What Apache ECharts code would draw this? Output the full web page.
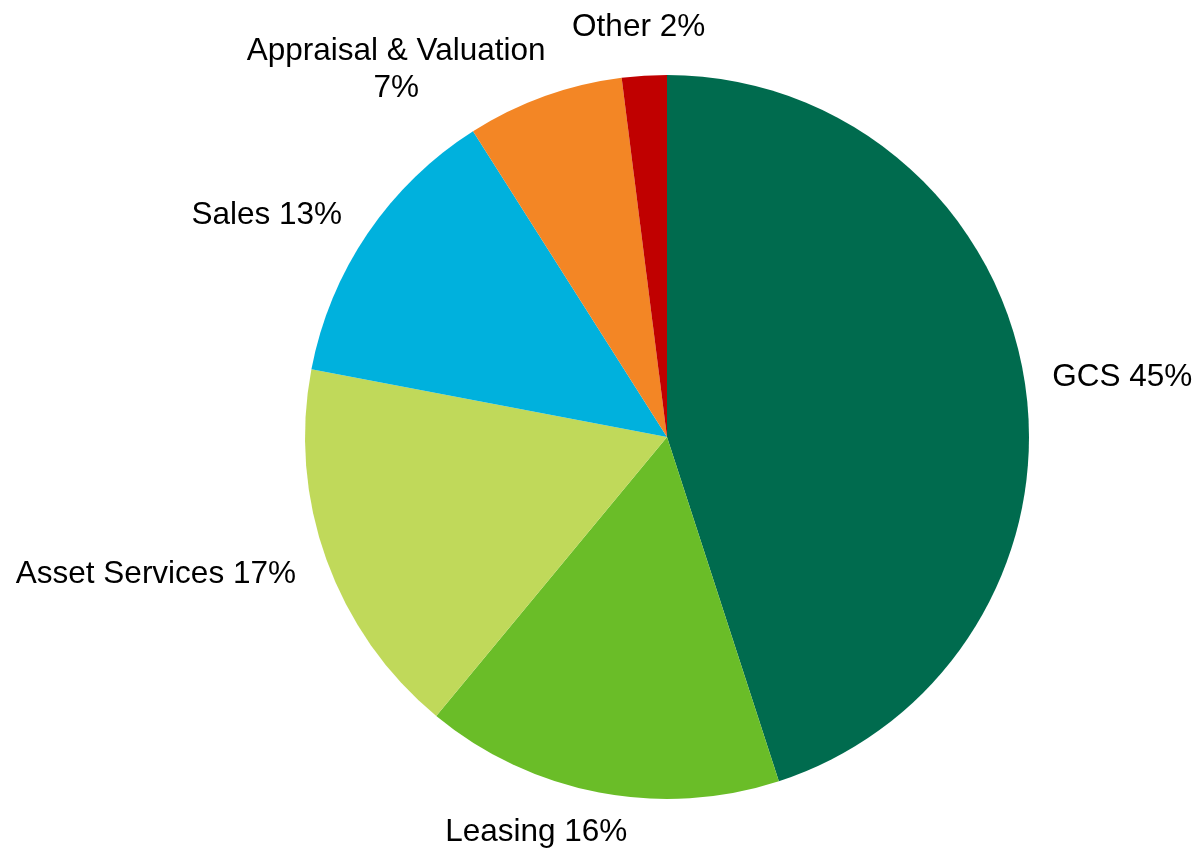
<!DOCTYPE html>
<html>
<head>
<meta charset="utf-8">
<script src="https://cdn.jsdelivr.net/npm/echarts@6/dist/echarts.min.js"></script>
<style>
html,body{margin:0;padding:0;background:#fff;}
#main{width:1201px;height:850px;}
</style>
</head>
<body>
<div id="main"></div>
<script>
const categories = ['GCS', 'Leasing', 'Asset Services', 'Sales', 'Appraisal & Valuation', 'Other'];
const values = [45, 16, 17, 13, 7, 2];
const colors = ['#006B4E', '#6ABD28', '#C0D95A', '#00B1DD', '#F38625', '#C00000'];

// layout constants
const CX = 667, CY = 437, R = 362, GAP = 26;
// small per-label nudges [dx, dy] to mimic the original label placement
const labelNudge = [[2, 1], [-58, -4], [-6, 6], [-4, -4], [10, -2], [-4, -4]];

const total = values.reduce((a, b) => a + b, 0);
const mids = [];
let acc = 0;
values.forEach(v => { mids.push((acc + v / 2) / total * 2 * Math.PI); acc += v; });

const chart = echarts.init(document.getElementById('main'), null, {renderer: 'canvas'});
chart.setOption({
  backgroundColor: '#ffffff',
  animation: false,
  series: [{
    type: 'pie',
    center: [CX, CY],
    radius: R,
    startAngle: 90,
    clockwise: true,
    avoidLabelOverlap: false,
    data: categories.map((c, i) => ({name: c, value: values[i], itemStyle: {color: colors[i]}})),
    itemStyle: {borderWidth: 0},
    label: {
      show: true,
      position: 'outside',
      color: '#000',
      fontFamily: '"Liberation Sans", Arial, sans-serif',
      fontSize: 31.5,
      lineHeight: 37,
      formatter: p => p.name + (p.name.length > 15 ? '\n' : ' ') + p.value + '%'
    },
    labelLine: {show: false, length: 10, length2: 0},
    labelLayout: function (params) {
      const i = params.dataIndex;
      const a = mids[i];
      const dx = Math.sin(a), dy = -Math.cos(a);
      const ax = CX + dx * (R + GAP), ay = CY + dy * (R + GAP);
      const w = params.labelRect.width, h = params.labelRect.height;
      let x, y;
      if (Math.abs(dx) >= 0.3) {
        x = ax + (dx > 0 ? w / 2 : -w / 2);
        y = ay;
      } else {
        x = ax;
        y = ay + (dy > 0 ? h / 2 : -h / 2);
      }
      return {
        x: x + labelNudge[i][0],
        y: y + labelNudge[i][1],
        align: 'center',
        verticalAlign: 'middle'
      };
    },
    emphasis: {disabled: true}
  }]
});
</script>
</body>
</html>
